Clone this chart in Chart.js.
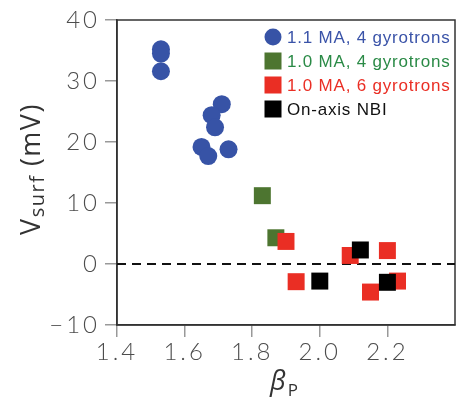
<!DOCTYPE html>
<html>
<head>
<meta charset="utf-8">
<script src="https://cdn.jsdelivr.net/npm/chart.js@4/dist/chart.umd.min.js"></script>
<style>
  html, body { margin: 0; padding: 0; background: #fff; overflow: hidden; }
  canvas { display: block; }
</style>
</head>
<body>
<canvas id="c" width="459" height="399"></canvas>
<script>
// Surface loop voltage versus poloidal beta, four discharge groups
const seriesNames = ['1.1 MA, 4 gyrotrons', '1.0 MA, 4 gyrotrons', '1.0 MA, 6 gyrotrons', 'On-axis NBI'];

const betaA = [1.53, 1.53, 1.53, 1.71, 1.68, 1.69, 1.65, 1.67, 1.73];
const vsurfA = [35.2, 34.5, 31.6, 26.2, 24.4, 22.4, 19.2, 17.7, 18.8];

const betaB = [1.83, 1.87];
const vsurfB = [11.2, 4.3];

const betaC = [1.90, 1.93, 2.09, 2.20, 2.15, 2.23];
const vsurfC = [3.7, -2.9, 1.4, 2.2, -4.6, -2.8];

const betaD = [2.00, 2.12, 2.20];
const vsurfD = [-2.8, 2.3, -3.0];

// zero reference line
const zeroLineX = [1.4, 2.4];
const zeroLineY = [0, 0];

const xTicks = [1.4, 1.6, 1.8, 2.0, 2.2];
const yTicks = [-10, 0, 10, 20, 30, 40];

const pts = (xs, ys) => xs.map((x, i) => ({ x: x, y: ys[i] }));

const markerColors = ['#3753a6', '#4d7530', '#ea2e24', '#000000'];
const textColors = ['#3a53a8', '#2a8a46', '#ea2e24', '#111111'];

const tickFont = { family: 'Lato, "Open Sans", sans-serif', size: 24, weight: '300' };

const framePlugin = {
  id: 'frame',
  beforeDraw(chart) {
    // wider tracking for the axis numbers
    chart.ctx.letterSpacing = '3px';
  },
  beforeDatasetsDraw(chart) {
    const { ctx, chartArea: a } = chart;
    ctx.letterSpacing = '0px';
    ctx.save();
    ctx.strokeStyle = '#333';
    ctx.lineWidth = 1.5;
    ctx.strokeRect(a.left, a.top, a.right - a.left, a.bottom - a.top);
    ctx.restore();
  },
  afterDraw(chart) {
    const { ctx, chartArea: a } = chart;
    ctx.save();

    // legend
    ctx.letterSpacing = '0.8px';
    ctx.font = '17px "Liberation Sans", Arial, sans-serif';
    ctx.textBaseline = 'middle';
    ctx.textAlign = 'left';
    const mx = a.right - 182;
    const y0 = a.top + 17;
    const dy = 24;
    chart.data.datasets.filter(d => d.inLegend).forEach((d, i) => {
      const y = y0 + i * dy;
      ctx.fillStyle = d.backgroundColor;
      if (d.pointStyle === 'circle') {
        ctx.beginPath();
        ctx.arc(mx, y, 8.5, 0, Math.PI * 2);
        ctx.fill();
      } else {
        ctx.fillRect(mx - 8.5, y - 8.5, 17, 17);
      }
      ctx.fillStyle = textColors[i];
      ctx.fillText(d.label, mx + 14, y + 1);
    });

    // y axis title: V_surf (mV)
    ctx.letterSpacing = '1.5px';
    ctx.fillStyle = '#333';
    ctx.textBaseline = 'alphabetic';
    const fMain = '27px "Open Sans", sans-serif';
    const fSub = '20px "Open Sans", sans-serif';
    ctx.font = fMain;
    const wV = ctx.measureText('V').width;
    const wRest = ctx.measureText(' (mV)').width;
    ctx.font = fSub;
    const wSub = ctx.measureText('surf').width;
    const total = wV + wSub + wRest;
    ctx.save();
    ctx.translate(40, 169);
    ctx.rotate(-Math.PI / 2);
    let tx = -total / 2;
    ctx.font = fMain;
    ctx.fillText('V', tx, 0);
    tx += wV;
    ctx.font = fSub;
    ctx.fillText('surf', tx, 4);
    tx += wSub;
    ctx.font = fMain;
    ctx.fillText(' (mV)', tx, 0);
    ctx.restore();

    // x axis title: beta_P
    ctx.letterSpacing = '0px';
    const fBeta = 'italic 27px "Open Sans", sans-serif';
    const fP = '17px "Open Sans", sans-serif';
    ctx.font = fBeta;
    const wB = ctx.measureText('\u03b2').width;
    ctx.font = fP;
    const wP = ctx.measureText('P').width;
    const cx = (a.left + a.right) / 2 - 2;
    const bx = cx - (wB + wP + 2) / 2;
    ctx.font = fBeta;
    ctx.fillText('\u03b2', bx, 390);
    ctx.font = fP;
    ctx.fillText('P', bx + wB + 2, 396);
    ctx.restore();
  }
};

new Chart(document.getElementById('c'), {
  type: 'scatter',
  data: {
    datasets: [
      { label: seriesNames[0], inLegend: true, data: pts(betaA, vsurfA), pointStyle: 'circle', pointRadius: 9, pointHoverRadius: 9, pointBorderWidth: 0, backgroundColor: markerColors[0], order: 4 },
      { label: seriesNames[1], inLegend: true, data: pts(betaB, vsurfB), pointStyle: 'rect', pointRadius: 12, pointHoverRadius: 12, pointBorderWidth: 0, backgroundColor: markerColors[1], order: 3 },
      { label: seriesNames[2], inLegend: true, data: pts(betaC, vsurfC), pointStyle: 'rect', pointRadius: 12, pointHoverRadius: 12, pointBorderWidth: 0, backgroundColor: markerColors[2], order: 2 },
      { label: seriesNames[3], inLegend: true, data: pts(betaD, vsurfD), pointStyle: 'rect', pointRadius: 12, pointHoverRadius: 12, pointBorderWidth: 0, backgroundColor: markerColors[3], order: 1 },
      { type: 'line', label: 'zero', inLegend: false, data: pts(zeroLineX, zeroLineY), borderColor: '#111', borderWidth: 2, borderDash: [9, 6], pointRadius: 0, fill: false, order: 5 }
    ]
  },
  options: {
    responsive: false,
    animation: false,
    layout: { autoPadding: false, padding: { left: 0, top: 20, right: 4, bottom: 0 } },
    plugins: { legend: { display: false }, tooltip: { enabled: false } },
    scales: {
      x: {
        type: 'linear',
        min: 1.4,
        max: 2.4,
        afterBuildTicks: s => { s.ticks = xTicks.map(v => ({ value: v })); },
        afterFit: s => { s.height = 74; s.paddingLeft = 0; s.paddingRight = 0; },
        border: { display: true, color: '#333', width: 1.5 },
        grid: { drawOnChartArea: false, drawTicks: true, tickLength: 12, tickColor: '#999', lineWidth: 1.5 },
        ticks: { color: '#4d4d4d', font: tickFont, padding: 1, maxRotation: 0, autoSkip: false, callback: v => v.toFixed(1) }
      },
      y: {
        type: 'linear',
        min: -10,
        max: 40,
        afterBuildTicks: s => { s.ticks = yTicks.map(v => ({ value: v })); },
        afterFit: s => { s.width = 117; s.paddingTop = 0; s.paddingBottom = 0; },
        border: { display: true, color: '#333', width: 1.5 },
        grid: { drawOnChartArea: false, drawTicks: true, tickLength: 12, tickColor: '#999', lineWidth: 1.5 },
        ticks: { color: '#4d4d4d', font: tickFont, padding: 5, autoSkip: false, callback: v => String(v).replace('-', '\u2212') }
      }
    }
  },
  plugins: [framePlugin]
});
</script>
</body>
</html>
